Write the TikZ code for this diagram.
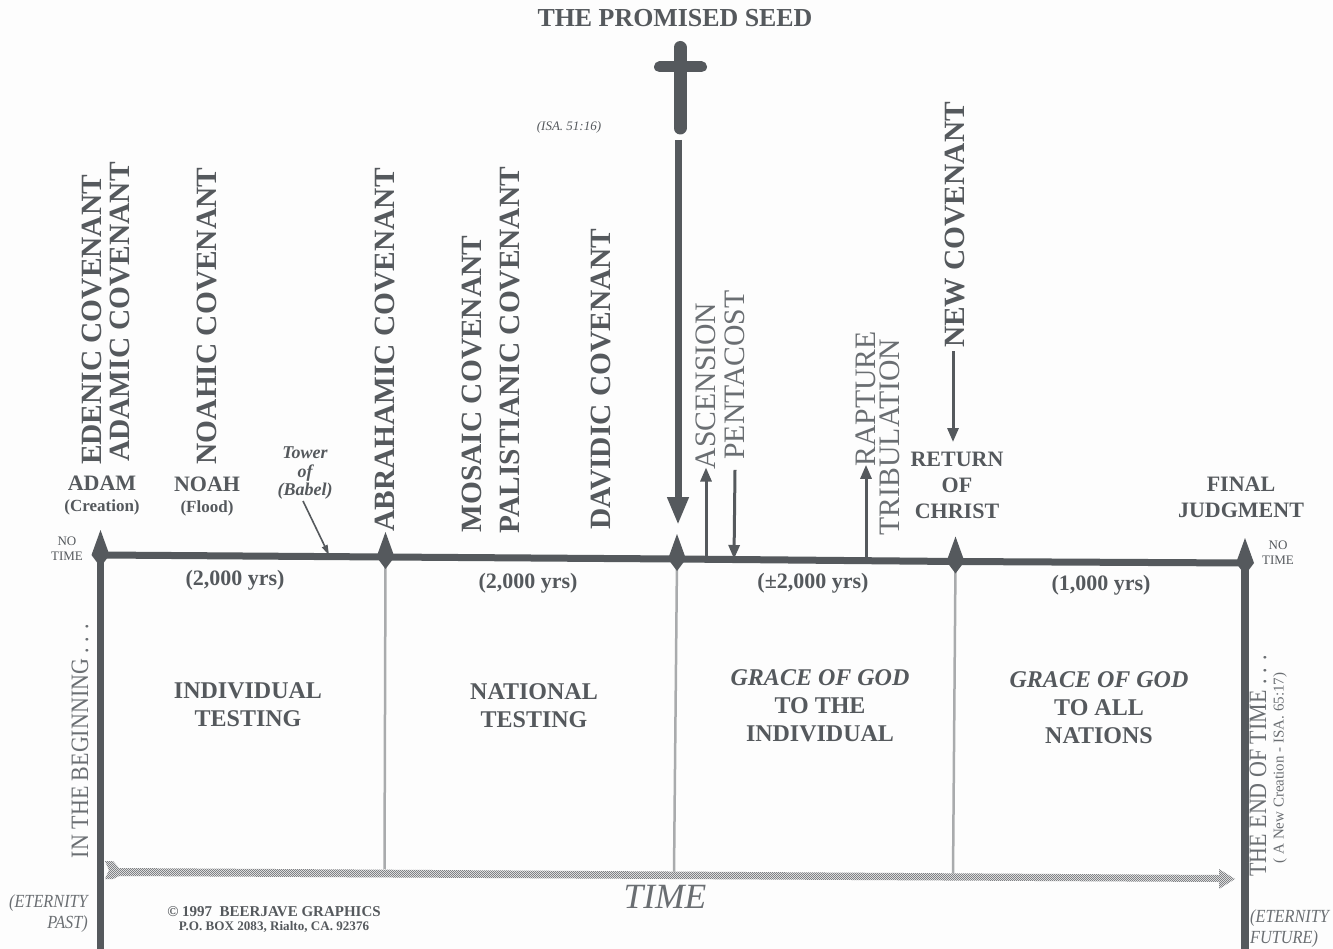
\documentclass[tikz,border=0pt]{standalone}
\usepackage{fontspec}
\setmainfont{Liberation Serif}
\newfontfamily\narrowserif[FakeStretch=0.88]{Liberation Serif}
\usetikzlibrary{arrows.meta,patterns}
\definecolor{ink}{HTML}{55595D}
\definecolor{soft}{HTML}{6A6E72}
\definecolor{rule}{HTML}{A9ABAD}
\definecolor{paper}{HTML}{FDFDFD}
\newcommand{\fs}[1]{\fontsize{#1}{#1}\selectfont}
\pgfdeclarepatternformonly{finecheck}{\pgfqpoint{0pt}{0pt}}{\pgfqpoint{2.4pt}{2.4pt}}{\pgfqpoint{2.4pt}{2.4pt}}{%
  \pgfpathrectangle{\pgfqpoint{0pt}{0pt}}{\pgfqpoint{1.2pt}{1.2pt}}%
  \pgfpathrectangle{\pgfqpoint{1.2pt}{1.2pt}}{\pgfqpoint{1.2pt}{1.2pt}}%
  \pgfusepath{fill}}
\tikzset{
  txt/.style={inner sep=0pt,text=ink,align=center},
  cov/.style={txt,rotate=90,font=\bfseries\fs{29.4}},
  ev/.style={txt,rotate=90,font=\fs{29.7},text=soft},
  side/.style={txt,rotate=90,font=\narrowserif\fs{25},text=soft},
  person/.style={txt,font=\bfseries\fs{22}},
  head/.style={txt,font=\bfseries\fontsize{22}{26}\selectfont},
  age/.style={txt,font=\bfseries\fontsize{24}{28}\selectfont},
  yrs/.style={txt,font=\bfseries\fs{22}},
  sub/.style={txt,font=\bfseries\fs{17}},
  notime/.style={txt,font=\fontsize{13}{15}\selectfont},
  eternity/.style={txt,text=soft,font=\narrowserif\itshape\fontsize{18.5}{21}\selectfont},
  bar/.style={draw=ink,line width=7pt},
  post/.style={draw=ink,line width=7.5pt},
  divider/.style={draw=rule,line width=2.5pt},
  thin/.style={draw=ink,line width=3pt,-{Triangle[length=14pt,width=11pt]}},
  kite/.pic={\fill[ink] (0,-25)--(9,0)--(0,12)--(-9,0)--cycle;},
}
\newcommand{\timearrow}{(105,861)--(113,861)--(119,868)--(1219,875)--(1219,869)--(1235,879)--(1219,889)--(1219,882)--(119,876)--(113,879)--(105,879)--(109,870)--cycle}
\begin{document}
\begin{tikzpicture}[x=1pt,y=-1pt]
\path[use as bounding box,fill=paper] (0,0) rectangle (1333,949);
% junctions
\coordinate (adam) at (100.5,555);
\coordinate (abr) at (385.5,557);
\coordinate (chr) at (677,559);
\coordinate (ret) at (955.5,561.5);
\coordinate (fin) at (1245,563);
\coordinate (botL) at (100.5,949);
\coordinate (botR) at (1245,949);
\coordinate (abrB) at (384.5,869);
\coordinate (chrB) at (674,873);
\coordinate (retB) at (953,876);
\coordinate (ascF) at (706,558.5);
\coordinate (penF) at (734,559);
\coordinate (rapF) at (866,560);
\coordinate (babF) at (329,555);
% dividers
\draw[divider] (abr) -- (abrB);
\draw[divider] (chr) -- (chrB);
\draw[divider] (ret) -- (retB);
% posts and timeline
\draw[post] (adam) -- (botL);
\draw[post] (fin) -- (botR);
\draw[bar] (adam) -- (abr) -- (chr) -- (ret) -- (fin);
\foreach \c in {adam,abr,chr,ret,fin} \path (\c) pic {kite};
% TIME arrow
\fill[fill=black!8] \timearrow;
\fill[pattern=finecheck,pattern color=ink!75] \timearrow;
% cross
\draw[ink,line width=13pt,line cap=round] (680,47.5) -- (680,128);
\draw[ink,line width=11pt,line cap=round] (659.5,67) -- (701.5,67);
\coordinate (crossFoot) at (678,140);
\draw[draw=ink,line width=7pt,-{Triangle[length=28pt,width=20pt]}] (crossFoot) -- (678,525);
% title
\node[txt,font=\bfseries\fs{25.9}] (title) at (675,18) {THE PROMISED SEED};
\node[txt,font=\itshape\fs{13}] (isa) at (569,127) {(ISA. 51:16)};
% covenants
\node[cov] (eden) at (92,320) {EDENIC COVENANT};
\node[cov] (adamc) at (120,312) {ADAMIC COVENANT};
\node[cov] (noahc) at (207,316) {NOAHIC COVENANT};
\node[cov] (abrc) at (385,350) {ABRAHAMIC COVENANT};
\node[cov] (mos) at (472,384) {MOSAIC COVENANT};
\node[cov] (pal) at (510,350) {PALISTIANIC COVENANT};
\node[cov] (dav) at (601,379) {DAVIDIC COVENANT};
\node[cov] (newc) at (955,225) {NEW COVENANT};
% events
\node[ev] (asc) at (706,386) {ASCENSION};
\node[ev] (pen) at (735,375) {PENTACOST};
\node[ev] (rap) at (866,399) {RAPTURE};
\node[ev] (tri) at (890,437) {TRIBULATION};
\draw[thin] (ascF) -- ([yshift=2pt]asc.west);
\draw[thin] (pen.west) ++(0,10) -- (penF);
\draw[thin] (rapF) -- ([yshift=2pt]rap.west);
\draw[thin] (newc.west) ++(-2,3) -- (953,442);
% names
\node[person] (adamn) at (102,483) {ADAM};
\node[sub] (crea) at (102,507) {(Creation)};
\node[person] (noahn) at (207,484) {NOAH};
\node[sub] (flood) at (207,508) {(Flood)};
\node[txt,font=\bfseries\itshape\fontsize{18}{18.5}\selectfont] (babel) at (305,473.5) {Tower\\of\\(Babel)};
\draw[draw=ink,line width=1.6pt,-{Triangle[length=10pt,width=6pt]}] (303,501) -- (babF);
\node[head] (retn) at (957,485) {RETURN\\OF\\CHRIST};
\node[head] (finn) at (1241,497) {FINAL\\JUDGMENT};
\node[notime] (nt1) at (67,549) {NO\\TIME};
\node[notime] (nt2) at (1278,553) {NO\\TIME};
% years
\node[yrs] (y1) at (235,580) {(2,000 yrs)};
\node[yrs] (y2) at (528,583) {(2,000 yrs)};
\node[yrs] (y3) at (813,583) {(±2,000 yrs)};
\node[yrs] (y4) at (1101,585) {(1,000 yrs)};
% ages
\node[age] (a1) at (248,705) {INDIVIDUAL\\TESTING};
\node[age] (a2) at (534,706) {NATIONAL\\TESTING};
\node[age] (a3) at (820,706) {\textit{GRACE OF GOD}\\TO THE\\INDIVIDUAL};
\node[age] (a4) at (1099,708) {\textit{GRACE OF GOD}\\TO ALL\\NATIONS};
% sides
\node[side] (beg) at (80,741) {IN THE BEGINNING . . .};
\node[side] (endt) at (1258,766) {THE END OF TIME . . .};
\node[txt,rotate=90,font=\fs{15},text=soft] (newcr) at (1280,768) {( A New Creation - ISA. 65:17)};
% bottom
\node[txt,text=soft,font=\itshape\fs{35.5}] (time) at (665,897) {TIME};
\node[eternity,align=right,anchor=east] (past) at (88,914) {(ETERNITY\\PAST)};
\node[eternity,align=left,anchor=west] (future) at (1250,929) {(ETERNITY\\FUTURE)};
\node[txt,font=\bfseries\fs{15}] (copy) at (274,912) {© 1997\ \ BEERJAVE GRAPHICS};
\node[txt,font=\bfseries\fs{13.1}] (box) at (274,927) {P.O. BOX 2083, Rialto, CA. 92376};
\end{tikzpicture}
\end{document}
